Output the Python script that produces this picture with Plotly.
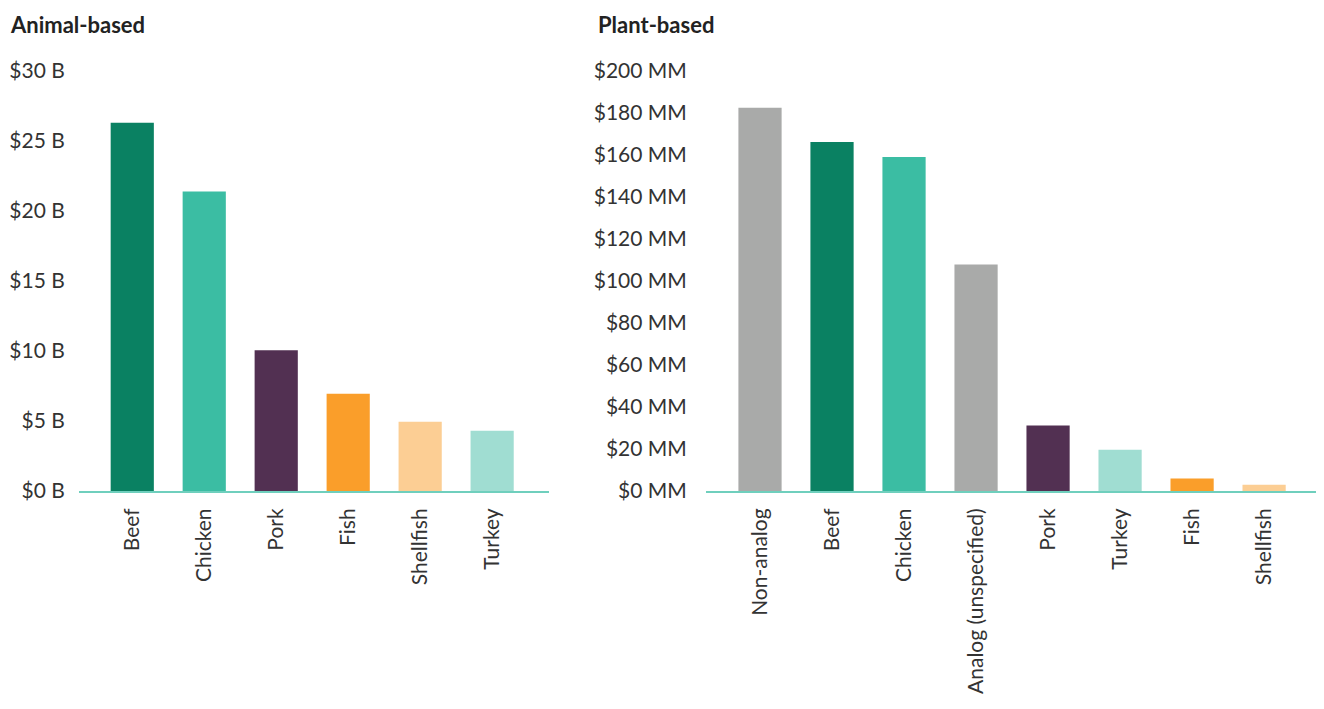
import plotly.graph_objects as go

# ---- data ----
animal_categories = ["Beef", "Chicken", "Pork", "Fish", "Shellfish", "Turkey"]
animal_values = [26.3, 21.4, 10.05, 6.95, 4.95, 4.3]  # $ billions
animal_colors = ["#0a8162", "#3bbda3", "#523052", "#fa9e2a", "#fcce94", "#a0ddd2"]

plant_categories = ["Non-analog", "Beef", "Chicken", "Analog (unspecified)",
                    "Pork", "Turkey", "Fish", "Shellfish"]
plant_values = [182.5, 166.2, 159.0, 107.8, 31.2, 19.6, 5.9, 3.0]  # $ millions
plant_colors = ["#a9aaa9", "#0a8162", "#3bbda3", "#a9aaa9",
                "#523052", "#a0ddd2", "#fa9e2a", "#fcce94"]

animal_ticks = [0, 5, 10, 15, 20, 25, 30]
animal_ticktext = ["$%d B" % v for v in animal_ticks]
plant_ticks = list(range(0, 201, 20))
plant_ticktext = ["$%d MM" % v for v in plant_ticks]

# page body has an 8px margin, so the figure is sized/offset to fit the window
OFF = 8
W, H = 1324 - 2 * OFF, 709 - 2 * OFF
FONT = "Lato"
TXT = "#333333"
AXIS = "#6fcfbd"


def px_x(p):
    return min(max((p - OFF) / W, 0), 1)


def px_y(p):
    return 1 - (p - OFF) / H


fig = go.Figure()
fig.add_trace(go.Bar(x=animal_categories, y=animal_values,
                     marker=dict(color=animal_colors, line=dict(width=0)),
                     xaxis="x", yaxis="y", showlegend=False, hoverinfo="x+y"))
fig.add_trace(go.Bar(x=plant_categories, y=plant_values,
                     marker=dict(color=plant_colors, line=dict(width=0)),
                     xaxis="x2", yaxis="y2", showlegend=False, hoverinfo="x+y"))

ydom = [px_y(491), px_y(71)]

common_x = dict(type="category", showgrid=False, zeroline=False, showline=True,
                linecolor=AXIS, linewidth=2, tickangle=-90, automargin=False,
                ticks="outside", ticklen=7, tickcolor="rgba(0,0,0,0)",
                tickfont=dict(family=FONT, size=21, color=TXT))
common_y = dict(showgrid=False, zeroline=False, showline=False, automargin=False,
                ticks="outside", tickcolor="rgba(0,0,0,0)",
                tickfont=dict(family=FONT, size=21, color=TXT), domain=ydom)

x2_end = 1321
x2_range_end = -0.75 + 8.54 * (min(x2_end, OFF + W) - 706) / (x2_end - 706)

fig.update_layout(
    template="none",
    width=W, height=H, autosize=False,
    margin=dict(l=0, r=0, t=0, b=0, pad=0),
    paper_bgcolor="white", plot_bgcolor="white",
    bargap=0.4,
    xaxis=dict(domain=[px_x(79), px_x(549)], range=[-0.74, 5.79], anchor="y", **common_x),
    yaxis=dict(range=[0, 30], tickvals=animal_ticks, ticktext=animal_ticktext,
               anchor="x", ticklen=9, **common_y),
    xaxis2=dict(domain=[px_x(706), px_x(x2_end)], range=[-0.75, x2_range_end],
                anchor="y2", **common_x),
    yaxis2=dict(range=[0, 200], tickvals=plant_ticks, ticktext=plant_ticktext,
                anchor="x2", ticklen=14, **common_y),
    annotations=[
        dict(text="<b>Animal-based</b>", x=px_x(8), y=px_y(9), xref="paper", yref="paper",
             xanchor="left", yanchor="top", showarrow=False,
             font=dict(family=FONT, size=22, color="#222222")),
        dict(text="<b>Plant-based</b>", x=px_x(596), y=px_y(9), xref="paper", yref="paper",
             xanchor="left", yanchor="top", showarrow=False,
             font=dict(family=FONT, size=22, color="#222222")),
    ],
)

fig.write_html("out.html")
